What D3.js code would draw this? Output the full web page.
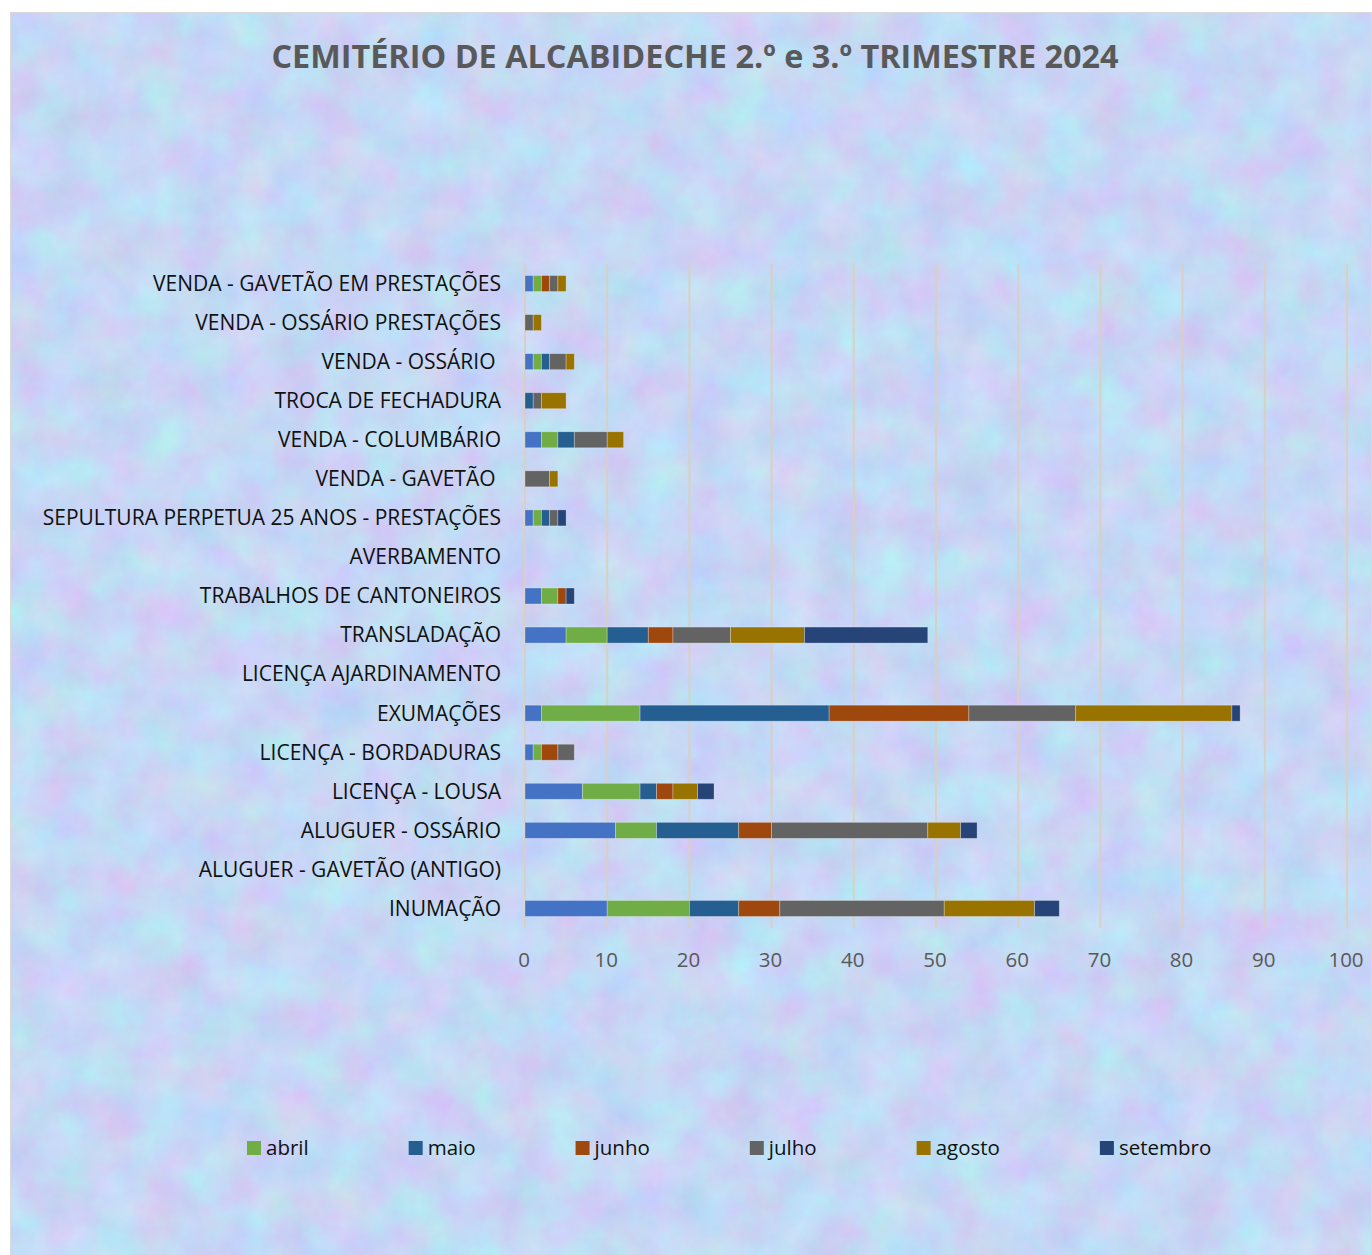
<!DOCTYPE html>
<html>
<head>
<meta charset="utf-8">
<script src="https://cdn.jsdelivr.net/npm/d3@7"></script>
<style>
  body { margin: 0; background: #fff; }
  svg text { font-family: "Open Sans", "Noto Sans", sans-serif; }
</style>
</head>
<body>
<div id="chart"></div>
<script>
var svgWidth = 1372;
var svgHeight = 1255;

// categories listed bottom to top (same order as the spreadsheet)
var categories = [
  "INUMAÇÃO",
  "ALUGUER - GAVETÃO (ANTIGO)",
  "ALUGUER - OSSÁRIO",
  "LICENÇA - LOUSA",
  "LICENÇA - BORDADURAS",
  "EXUMAÇÕES",
  "LICENÇA AJARDINAMENTO",
  "TRANSLADAÇÃO",
  "TRABALHOS DE CANTONEIROS",
  "AVERBAMENTO",
  "SEPULTURA PERPETUA 25 ANOS - PRESTAÇÕES",
  "VENDA - GAVETÃO ",
  "VENDA - COLUMBÁRIO",
  "TROCA DE FECHADURA",
  "VENDA - OSSÁRIO ",
  "VENDA - OSSÁRIO PRESTAÇÕES",
  "VENDA - GAVETÃO EM PRESTAÇÕES"
];

// first series has no name in the legend
var semNome  = [10, 0, 11, 7, 1, 2, 0, 5, 2, 0, 1, 0, 2, 0, 1, 0, 1];
var abril    = [10, 0, 5, 7, 1, 12, 0, 5, 2, 0, 1, 0, 2, 0, 1, 0, 1];
var maio     = [6, 0, 10, 2, 0, 23, 0, 5, 0, 0, 1, 0, 2, 1, 1, 0, 0];
var junho    = [5, 0, 4, 2, 2, 17, 0, 3, 1, 0, 0, 0, 0, 0, 0, 0, 1];
var julho    = [20, 0, 19, 0, 2, 13, 0, 7, 0, 0, 1, 3, 4, 1, 2, 1, 1];
var agosto   = [11, 0, 4, 3, 0, 19, 0, 9, 0, 0, 0, 1, 2, 3, 1, 1, 1];
var setembro = [3, 0, 2, 2, 0, 1, 0, 15, 1, 0, 1, 0, 0, 0, 0, 0, 0];

var seriesKeys = ["", "abril", "maio", "junho", "julho", "agosto", "setembro"];
var seriesValues = [semNome, abril, maio, junho, julho, agosto, setembro];
var colors = ["#4472C4", "#70AD47", "#255E91", "#9E480E", "#636363", "#997300", "#264478"];

var xTicks = [0, 10, 20, 30, 40, 50, 60, 70, 80, 90, 100];

var margin = { top: 264, left: 525, right: 25, bottom: 327 };
var width = svgWidth - margin.left - margin.right;
var height = svgHeight - margin.top - margin.bottom;

var svg = d3.select("#chart")
  .append("svg")
  .attr("width", svgWidth)
  .attr("height", svgHeight);

// textured pastel background
var defs = svg.append("defs");
var filter = defs.append("filter")
  .attr("id", "tex")
  .attr("color-interpolation-filters", "sRGB")
  .attr("x", 0).attr("y", 0).attr("width", "100%").attr("height", "100%");
filter.append("feTurbulence")
  .attr("type", "fractalNoise")
  .attr("baseFrequency", "0.022")
  .attr("numOctaves", 4)
  .attr("seed", 7);
filter.append("feColorMatrix")
  .attr("type", "matrix")
  .attr("values", "0.2 0 0 0 0.675  -0.12 0.15 0 0 0.83  0 0 0.08 0 0.92  0 0 0 0 1");

svg.append("rect")
  .attr("x", 10).attr("y", 12)
  .attr("width", svgWidth - 10).attr("height", svgHeight - 12)
  .attr("filter", "url(#tex)");
svg.append("rect")
  .attr("x", 10.5).attr("y", 12.5)
  .attr("width", svgWidth - 11).attr("height", svgHeight - 12)
  .attr("fill", "none")
  .attr("stroke", "#d9d9d9");

// title
svg.append("text")
  .attr("x", 695)
  .attr("y", 68)
  .attr("text-anchor", "middle")
  .attr("font-size", 32.4)
  .attr("font-weight", "bold")
  .attr("fill", "#595959")
  .text("CEMITÉRIO DE ALCABIDECHE 2.º e 3.º TRIMESTRE 2024");

var chartGroup = svg.append("g")
  .attr("transform", `translate(${margin.left}, ${margin.top})`);

var xScale = d3.scaleLinear()
  .domain([0, 100])
  .range([0, 822]);

var yScale = d3.scaleBand()
  .domain(categories.slice().reverse())
  .range([0, height])
  .paddingInner(0.59)
  .paddingOuter(0.295);

// gridlines
chartGroup.selectAll("line.grid")
  .data(xTicks)
  .enter()
  .append("line")
  .attr("class", "grid")
  .attr("x1", d => xScale(d))
  .attr("x2", d => xScale(d))
  .attr("y1", 0)
  .attr("y2", height)
  .attr("stroke", "#d8d0c4")
  .attr("stroke-width", 2);

// stacked bars
var rows = categories.map(function(c, i) {
  var row = { cat: c };
  seriesKeys.forEach(function(k, j) { row["s" + j] = seriesValues[j][i]; });
  return row;
});
var stack = d3.stack().keys(seriesKeys.map((k, j) => "s" + j));
var stacked = stack(rows);

chartGroup.selectAll("g.series")
  .data(stacked)
  .enter()
  .append("g")
  .attr("class", "series")
  .attr("fill", (d, i) => colors[i])
  .selectAll("rect")
  .data(d => d.filter(p => p[1] - p[0] > 0))
  .enter()
  .append("rect")
  .attr("x", d => xScale(d[0]))
  .attr("width", d => xScale(d[1]) - xScale(d[0]))
  .attr("y", d => yScale(d.data.cat))
  .attr("height", yScale.bandwidth())
  .attr("stroke", "rgba(255,255,255,0.35)")
  .attr("stroke-width", 0.8);

// category labels
chartGroup.selectAll("text.cat")
  .data(categories)
  .enter()
  .append("text")
  .attr("class", "cat")
  .attr("x", -24)
  .attr("y", d => yScale(d) + yScale.bandwidth() / 2)
  .attr("dy", "0.35em")
  .attr("text-anchor", "end")
  .attr("font-size", 21)
  .attr("fill", "#111")
  .style("white-space", "pre")
  .text(d => d);

// x tick labels
chartGroup.selectAll("text.tick")
  .data(xTicks)
  .enter()
  .append("text")
  .attr("class", "tick")
  .attr("x", d => xScale(d) - 1)
  .attr("y", height + 32)
  .attr("dy", "0.35em")
  .attr("text-anchor", "middle")
  .attr("font-size", 20.5)
  .attr("fill", "#595959")
  .text(d => d);

// legend (unnamed first series is not shown)
var legend = svg.append("g").attr("transform", "translate(247, 1148)");
var lx = 0;
seriesKeys.forEach(function(k, j) {
  if (k === "") return;
  var item = legend.append("g").attr("transform", `translate(${lx}, 0)`);
  item.append("rect")
    .attr("x", 0).attr("y", -7)
    .attr("width", 14).attr("height", 14)
    .attr("fill", colors[j]);
  var t = item.append("text")
    .attr("x", 19)
    .attr("dy", "0.35em")
    .attr("font-size", 20.5)
    .attr("fill", "#111")
    .text(k);
  lx += 19 + t.node().getComputedTextLength() + 100;
});
</script>
</body>
</html>
